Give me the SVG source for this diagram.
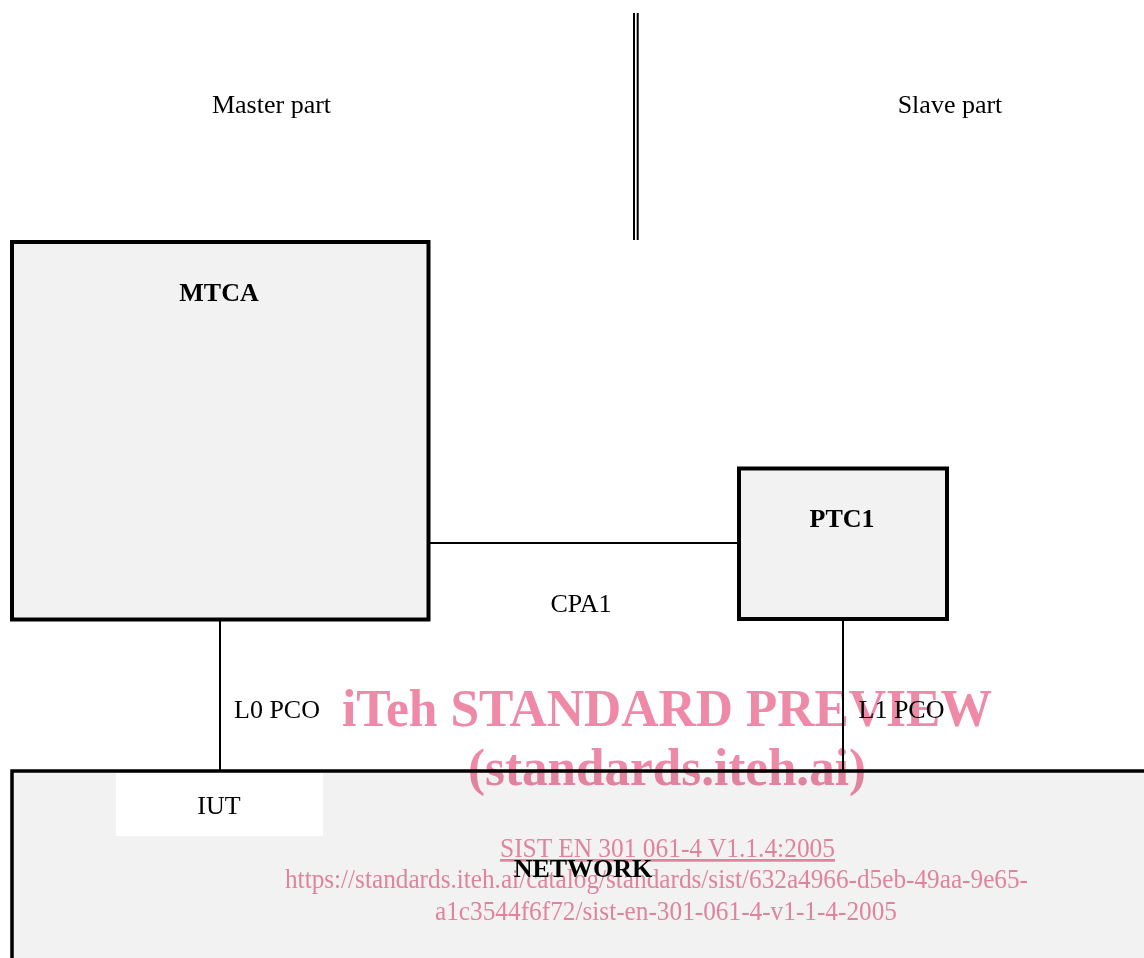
<svg xmlns="http://www.w3.org/2000/svg" width="1144" height="958" viewBox="0 0 1144 958">
<style>
.box{fill:#f2f2f2;stroke:#000;stroke-width:4}
.lbl{font-family:"Liberation Serif","Times New Roman",serif;font-size:26px;fill:#000;text-anchor:middle}
.bold{font-weight:bold}
.conn{stroke:#000;stroke-width:2;fill:none}
.wm{font-family:"Liberation Serif","Times New Roman",serif;fill:#ee8aa7;text-anchor:middle}
#watermark{mix-blend-mode:multiply}
</style>
<rect x="0" y="0" width="1144" height="958" fill="#fff"/>
<g id="divider">
<line class="conn" x1="634" y1="13" x2="634" y2="240"/>
<line class="conn" x1="637.7" y1="13" x2="637.7" y2="240"/>
</g>
<g id="master-label"><text class="lbl" x="271.5" y="113">Master part</text></g>
<g id="slave-label"><text class="lbl" x="950" y="113">Slave part</text></g>
<g id="network">
<rect class="box" x="12" y="771" width="1160" height="220" style="stroke-width:3.5"/>
<rect x="116" y="773" width="207" height="63" fill="#fff"/>
<text class="lbl" x="219" y="814">IUT</text>
<text class="lbl bold" x="583" y="877">NETWORK</text>
</g>
<g id="connectors">
<line class="conn" x1="430" y1="543" x2="737" y2="543"/>
<line class="conn" x1="220" y1="621" x2="220" y2="770"/>
<line class="conn" x1="843" y1="621" x2="843" y2="770"/>
<text class="lbl" x="581" y="612">CPA1</text>
<text class="lbl" x="277" y="718">L0 PCO</text>
<text class="lbl" x="901.5" y="718">L1 PCO</text>
</g>
<g id="mtca">
<rect class="box" x="12" y="242" width="416.5" height="377.5"/>
<text class="lbl bold" x="219" y="301">MTCA</text>
</g>
<g id="ptc1">
<rect class="box" x="739" y="468.5" width="208" height="150.5"/>
<text class="lbl bold" x="842" y="527">PTC1</text>
</g>
<g id="watermark">
<text class="wm" x="667" y="726" font-size="52" font-weight="bold" textLength="650" lengthAdjust="spacingAndGlyphs">iTeh STANDARD PREVIEW</text>
<text class="wm" x="667" y="785" font-size="52" font-weight="bold" textLength="398" lengthAdjust="spacingAndGlyphs">(standards.iteh.ai)</text>
<text class="wm" x="667.5" y="857" font-size="27" textLength="335" lengthAdjust="spacingAndGlyphs" text-decoration="underline">SIST EN 301 061-4 V1.1.4:2005</text>
<text class="wm" x="656.5" y="888" font-size="27" textLength="743" lengthAdjust="spacingAndGlyphs">https://standards.iteh.ai/catalog/standards/sist/632a4966-d5eb-49aa-9e65-</text>
<text class="wm" x="666" y="920" font-size="27" textLength="462" lengthAdjust="spacingAndGlyphs">a1c3544f6f72/sist-en-301-061-4-v1-1-4-2005</text>
</g>
</svg>
